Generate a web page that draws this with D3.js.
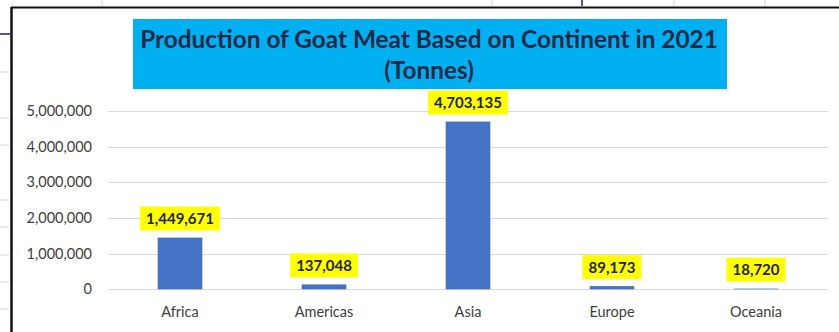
<!DOCTYPE html>
<html>
<head>
<meta charset="utf-8">
<script src="https://cdnjs.cloudflare.com/ajax/libs/d3/7.8.5/d3.min.js"></script>
<style>
  body { margin: 0; background: #fff; }
  text { font-family: Lato, "Open Sans", sans-serif; }
</style>
</head>
<body>
<svg id="chart"></svg>
<script>
// data
let continents = ['Africa', 'Americas', 'Asia', 'Europe', 'Oceania'];
let tonnes = [1449671, 137048, 4703135, 89173, 18720];
let yTicks = [0, 1000000, 2000000, 3000000, 4000000, 5000000];
let titleLines = ['Production of Goat Meat Based on Continent in 2021', '(Tonnes)'];

let width = 839;
let height = 332;

let svg = d3.select('#chart')
    .attr('width', width)
    .attr('height', height);

// bits of the spreadsheet showing round the chart
let colLines = [102, 492, 674, 765];
colLines.forEach((x) => {
    svg.append('line').attr('x1', x).attr('x2', x).attr('y1', 0).attr('y2', 6)
        .attr('stroke', '#d4d4d4');
});
svg.append('line').attr('x1', 582).attr('x2', 582).attr('y1', 0).attr('y2', 6)
    .attr('stroke', '#1a1a8c').attr('stroke-width', 1.5);

let rowLines = [72, 118, 145, 200, 227, 255, 282, 309];
rowLines.forEach((y) => {
    svg.append('line').attr('x1', 0).attr('x2', 9).attr('y1', y).attr('y2', y)
        .attr('stroke', '#d4d4d4');
});
svg.append('line').attr('x1', 0).attr('x2', 10).attr('y1', 34).attr('y2', 34)
    .attr('stroke', '#1a1a8c').attr('stroke-width', 1.5);

// chart frame
svg.append('line').attr('x1', 11).attr('x2', width).attr('y1', 7.5).attr('y2', 7.5)
    .attr('stroke', '#111').attr('stroke-width', 2);
svg.append('line').attr('x1', 11.5).attr('x2', 11.5).attr('y1', 7).attr('y2', height)
    .attr('stroke', '#111').attr('stroke-width', 2.5);

// scales
let xScale = d3.scaleBand()
    .domain(continents)
    .range([108, 828])
    .paddingInner(0.69)
    .paddingOuter(0.345);

let yScale = d3.scaleLinear()
    .domain([0, 5000000])
    .range([289.3, 111]);

// gridlines
svg.append('g')
    .selectAll('line')
    .data(yTicks)
    .enter()
    .append('line')
    .attr('x1', 108)
    .attr('x2', 828)
    .attr('y1', (d) => Math.round(yScale(d)) + 0.5)
    .attr('y2', (d) => Math.round(yScale(d)) + 0.5)
    .attr('stroke', '#d9d9d9');

// y axis labels
let yAxis = d3.axisLeft(yScale)
    .tickValues(yTicks)
    .tickFormat(d3.format(','))
    .tickSize(0)
    .tickPadding(0);

let yG = svg.append('g')
    .attr('transform', 'translate(92, 0)')
    .call(yAxis);
yG.select('.domain').remove();
yG.selectAll('text')
    .attr('font-size', 14.5)
    .attr('fill', '#404040')
    .style('font-family', 'Lato, sans-serif');

// x axis labels
let xAxis = d3.axisBottom(xScale).tickSize(0).tickPadding(0);
let xG = svg.append('g')
    .attr('transform', 'translate(0, 307)')
    .call(xAxis);
xG.select('.domain').remove();
xG.selectAll('text')
    .attr('font-size', 14.5)
    .attr('fill', '#404040')
    .style('font-family', 'Lato, sans-serif');

// bars
svg.append('g')
    .selectAll('rect')
    .data(tonnes)
    .enter()
    .append('rect')
    .attr('x', (d, i) => xScale(continents[i]))
    .attr('width', xScale.bandwidth())
    .attr('y', (d) => yScale(d))
    .attr('height', (d) => yScale(0) - yScale(d))
    .attr('fill', '#4472c4');

// data labels on yellow
let labels = svg.append('g')
    .selectAll('g')
    .data(tonnes)
    .enter()
    .append('g')
    .attr('transform', (d, i) => 'translate(' + (xScale(continents[i]) + xScale.bandwidth() / 2) + ',' + (yScale(d) - 7) + ')');

labels.append('rect').attr('fill', '#ffff00');
labels.append('text')
    .attr('text-anchor', 'middle')
    .attr('y', -6.5)
    .attr('font-size', 15)
    .attr('font-weight', 'bold')
    .attr('fill', '#222')
    .text((d) => d3.format(',')(d));

labels.each(function () {
    let g = d3.select(this);
    let w = g.select('text').node().getComputedTextLength();
    g.select('rect')
        .attr('x', -w / 2 - 6)
        .attr('y', -24)
        .attr('width', w + 12)
        .attr('height', 24);
});

// title
svg.append('rect')
    .attr('x', 133)
    .attr('y', 19)
    .attr('width', 594)
    .attr('height', 70)
    .attr('fill', '#00b0f0');

let t1 = svg.append('text')
    .attr('x', 429)
    .attr('y', 48)
    .attr('text-anchor', 'middle')
    .attr('font-size', 20)
    .attr('font-weight', 'bold')
    .attr('fill', '#1b2947')
    .text(titleLines[0]);
let fit = 20 * 578 / t1.node().getComputedTextLength();
t1.attr('font-size', fit);

svg.append('text')
    .attr('x', 429)
    .attr('y', 79)
    .attr('text-anchor', 'middle')
    .attr('font-size', fit)
    .attr('font-weight', 'bold')
    .attr('fill', '#1b2947')
    .text(titleLines[1]);
</script>
</body>
</html>
